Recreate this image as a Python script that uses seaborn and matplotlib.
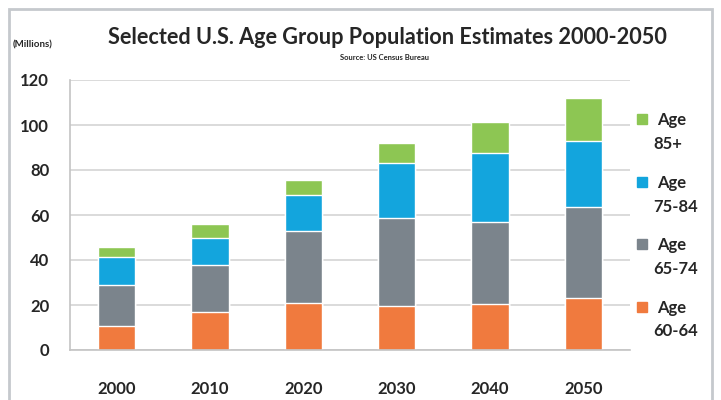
import numpy as np
import pandas as pd
import matplotlib.pyplot as plt
import seaborn as sns
from matplotlib.patches import Rectangle

sns.set_style('white')
plt.rcParams['font.family'] = ['Lato', 'DejaVu Sans']
plt.rcParams['font.weight'] = 'bold'

years = ['2000', '2010', '2020', '2030', '2040', '2050']
age_60_64 = [10.7, 16.7, 20.7, 19.7, 20.3, 23.3]
age_65_74 = [18.2, 21.2, 32.2, 38.8, 36.7, 40.1]
age_75_84 = [12.3, 12.0, 16.1, 24.8, 30.4, 29.5]
age_85_up = [4.4, 6.0, 6.6, 8.6, 14.1, 19.0]

groups = ['Age\n60-64', 'Age\n65-74', 'Age\n75-84', 'Age\n85+']
colors = ['#F07A3E', '#7B848C', '#13A5DD', '#8DC653']

df = pd.DataFrame({'year': years, groups[0]: age_60_64, groups[1]: age_65_74,
                   groups[2]: age_75_84, groups[3]: age_85_up})
cum = df[groups].cumsum(axis=1)

fig = plt.figure(figsize=(7.21, 4.0), dpi=100)
ax = fig.add_axes([70 / 721, 50 / 400, 560 / 721, 270 / 400])

# stacked bars: draw cumulative totals from the top down
for g, c in reversed(list(zip(groups, colors))):
    sns.barplot(x=df['year'], y=cum[g], color=c, width=0.4, ax=ax, saturation=1)

ax.set_ylim(0, 120)
ax.set_xlim(-0.5, 5.5)
ax.set_yticks(np.arange(0, 121, 20))
ax.yaxis.grid(True, color='#d4d4d4', linewidth=1.2)
ax.set_axisbelow(True)
ax.set_xlabel('')
ax.set_ylabel('')
for s in ['top', 'right']:
    ax.spines[s].set_visible(False)
for s in ['left', 'bottom']:
    ax.spines[s].set_color('#c4c4c4')
    ax.spines[s].set_linewidth(1.2)
ax.tick_params(axis='y', length=6, color='#c4c4c4', pad=9, labelsize=12)
ax.tick_params(axis='x', which='major', length=0, pad=22, labelsize=12)
ax.set_xticks(np.arange(-0.5, 6, 1), minor=True)
ax.tick_params(axis='x', which='minor', length=5, color='#c4c4c4', width=1.2)

# legend
for i, (g, c) in enumerate(reversed(list(zip(groups, colors)))):
    ytop = 114 + i * 62.5
    fig.patches.append(Rectangle((637 / 721, 1 - (ytop + 10) / 400), 10 / 721, 10 / 400,
                                 transform=fig.transFigure, color=c, figure=fig))
    name, rng = g.split('\n')
    fig.text(657 / 721, 1 - (ytop + 6) / 400, name, fontsize=12, va='center', ha='left')
    fig.text(653 / 721, 1 - (ytop + 30) / 400, rng, fontsize=12, va='center', ha='left')

fig.text(387 / 721, 1 - 37 / 400, 'Selected U.S. Age Group Population Estimates 2000-2050',
         fontsize=15.6, ha='center', va='center')
fig.text(385 / 721, 1 - 57 / 400, 'Source: US Census Bureau', fontsize=5.5, ha='center', va='center')
fig.text(33 / 721, 1 - 45 / 400, '(Millions)', fontsize=7, ha='center', va='center')

fig.patches.append(Rectangle((9 / 721, -0.1), 703 / 721, 1.1 - 9 / 400, transform=fig.transFigure,
                             fill=False, edgecolor='#c5c9cd', linewidth=2, figure=fig))

fig.savefig('out.png', dpi=100)
